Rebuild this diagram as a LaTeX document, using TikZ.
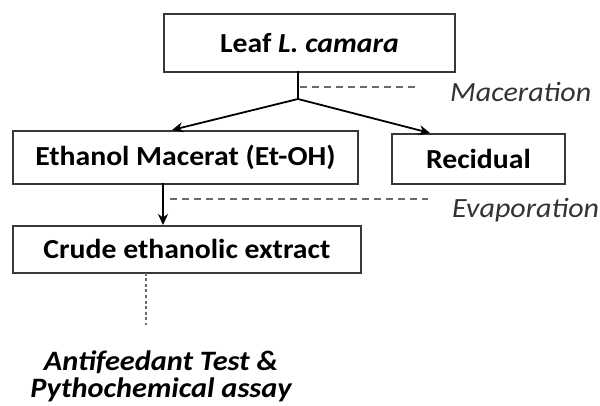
\documentclass[tikz,border=0pt]{standalone}
\usepackage{fontspec}
\setmainfont{Carlito}[FakeStretch=1.08]
\usetikzlibrary{arrows.meta}
\definecolor{boxline}{HTML}{383838}
\definecolor{dashgray}{HTML}{6A6A6A}
\definecolor{labgray}{HTML}{333333}
\begin{document}
\begin{tikzpicture}[x=1pt,y=-1pt,
  box/.style={draw=boxline, line width=1.8pt, inner sep=0pt, anchor=north west,
    font=\fontsize{27.5}{30}\selectfont\bfseries, text=black},
  lab/.style={font=\fontsize{27.8}{30}\selectfont\itshape, text=labgray, inner sep=0pt, anchor=west},
  arr/.style={line width=1.8pt, -{Stealth[length=11pt,width=10pt]}},
  dsh/.style={dashgray, line width=1.5pt, dash pattern=on 7pt off 5pt},
  dot/.style={dashgray, line width=2pt, dash pattern=on 3pt off 2.5pt}]
\useasboundingbox (0,0) rectangle (600,406);
\node[box, minimum width=291pt, minimum height=58pt] (leaf) at (163,13) {Leaf \textit{L. camara}};
\node[box, minimum width=345pt, minimum height=53pt] (eth) at (12,130) {Ethanol Macerat (Et-OH)};
\node[box, minimum width=173pt, minimum height=50pt] (rec) at (391,133) {Recidual};
\node[box, minimum width=348pt, minimum height=47pt] (crude) at (12,225) {Crude ethanolic extract};
\node[lab] (mac) at (450,92) {Maceration};
\node[lab] (eva) at (452,210) {Evaporation};
\node[font=\fontsize{28.1}{27}\selectfont\bfseries\itshape, align=center, inner sep=0pt, anchor=base] (anti) at (161,397) {Antifeedant Test \&\\Pythochemical assay};
\coordinate (split) at (298,99);
\coordinate (leafb) at (298,71);
\coordinate (macA) at (300,87);
\coordinate (macB) at (418,87);
\coordinate (ethT) at (172,130);
\coordinate (recT) at (430,133);
\coordinate (ethB) at (163,183);
\coordinate (crudeT) at (163,225);
\coordinate (evaA) at (170,199);
\coordinate (evaB) at (428,199);
\coordinate (crudeB) at (146,273);
\coordinate (dotE) at (146,325);
\draw[line width=1.8pt] (leafb) -- (split);
\draw[dsh] (macA) -- (macB);
\draw[arr] (split) -- (ethT);
\draw[arr] (split) -- (recT);
\draw[arr] (ethB) -- (crudeT);
\draw[dsh] (evaA) -- (evaB);
\draw[dot] (crudeB) -- (dotE);
\end{tikzpicture}
\end{document}
